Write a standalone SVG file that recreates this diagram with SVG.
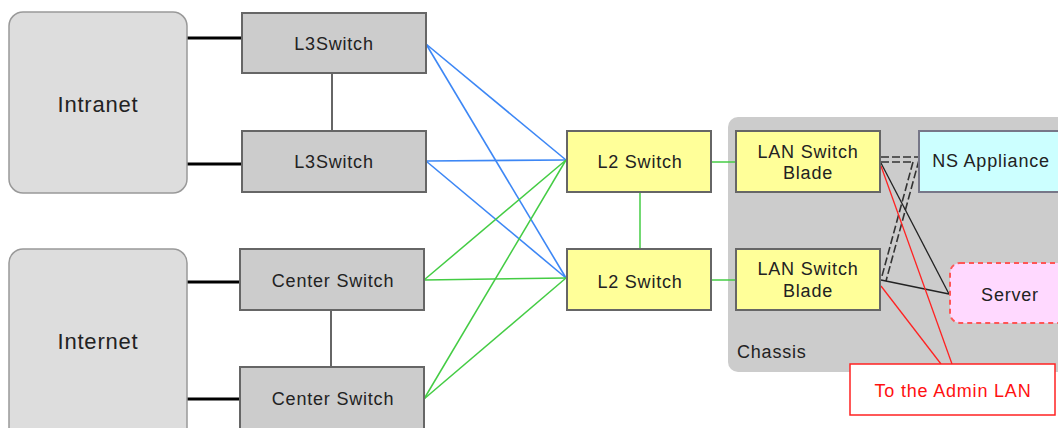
<svg xmlns="http://www.w3.org/2000/svg" width="1058" height="428" viewBox="0 0 1058 428">
<style>
text{font-family:"Liberation Sans",Arial,sans-serif;font-size:18px;fill:#222;letter-spacing:0.8px}
text.big{font-size:22px}
.cloud{fill:#dddddd;stroke:#999;stroke-width:1.5}
.sw{fill:#cccccc;stroke:#666;stroke-width:2}
.yl{fill:#ffff99;stroke:#666;stroke-width:2}
.blue{stroke:#3d87f5;stroke-width:1.6;fill:none}
.green{stroke:#44cc44;stroke-width:1.5;fill:none}
.blk{stroke:#000;stroke-width:3}
.gray{stroke:#666;stroke-width:2}
.thin{stroke:#222;stroke-width:1.3;fill:none}
.dash{stroke:#333;stroke-width:1.6;stroke-dasharray:8 3;fill:none}
.red{stroke:#ff2222;stroke-width:1.3;fill:none}
</style>
<rect width="1058" height="428" fill="#fff"/>
<g id="chassis">
<rect x="728" y="117" width="345" height="255" rx="10" fill="#cccccc"/>
<text x="737" y="358">Chassis</text>
</g>
<g id="connectors">
<line class="blk" x1="187" y1="38" x2="242" y2="38"/>
<line class="blk" x1="187" y1="164" x2="242" y2="164"/>
<line class="blk" x1="187" y1="282" x2="240" y2="282"/>
<line class="blk" x1="187" y1="399" x2="240" y2="399"/>
<line class="gray" x1="332" y1="73" x2="332" y2="130"/>
<line class="gray" x1="331" y1="310" x2="331" y2="367"/>
<line class="blue" x1="426" y1="44" x2="566" y2="160"/>
<line class="blue" x1="426" y1="44" x2="566" y2="278"/>
<line class="blue" x1="426" y1="161" x2="566" y2="160" stroke-width="2.5" stroke="#5a9af7"/>
<line class="blue" x1="426" y1="161" x2="566" y2="278"/>
<line class="green" x1="424" y1="280" x2="566" y2="160" stroke-width="2"/>
<line class="green" x1="424" y1="280" x2="566" y2="278" stroke-width="2.5" stroke="#8ee08e"/>
<line class="green" x1="424" y1="399" x2="566" y2="160"/>
<line class="green" x1="424" y1="399" x2="566" y2="278"/>
<line class="green" x1="640" y1="192" x2="640" y2="248"/>
<line class="green" x1="711" y1="162" x2="736" y2="162"/>
<line class="green" x1="711" y1="280" x2="736" y2="280"/>
<line class="dash" x1="881" y1="157" x2="919" y2="157"/>
<line class="dash" x1="881" y1="162" x2="913" y2="162"/>
<line class="dash" x1="913" y1="162" x2="882" y2="276"/>
<line class="dash" x1="919" y1="160" x2="886" y2="281"/>
<line class="thin" x1="881" y1="163" x2="949" y2="294"/>
<line class="thin" x1="881" y1="280" x2="949" y2="294"/>
<line class="red" x1="881" y1="166" x2="952" y2="364"/>
<line class="red" x1="881" y1="286" x2="941" y2="364"/>
</g>
<g id="intranet">
<rect class="cloud" x="9" y="12" width="178" height="181" rx="14"/>
<text class="big" x="98" y="112" text-anchor="middle">Intranet</text>
</g>
<g id="internet">
<rect class="cloud" x="9" y="249" width="178" height="200" rx="14"/>
<text class="big" x="98" y="349" text-anchor="middle">Internet</text>
</g>
<g id="l3switch1">
<rect class="sw" x="242" y="13" width="184" height="60"/>
<text x="334" y="50" text-anchor="middle">L3Switch</text>
</g>
<g id="l3switch2">
<rect class="sw" x="242" y="131" width="184" height="61"/>
<text x="334" y="168" text-anchor="middle">L3Switch</text>
</g>
<g id="centerswitch1">
<rect class="sw" x="240" y="249" width="184" height="61"/>
<text x="333" y="287" text-anchor="middle">Center Switch</text>
</g>
<g id="centerswitch2">
<rect class="sw" x="240" y="367" width="184" height="62"/>
<text x="333" y="405" text-anchor="middle">Center Switch</text>
</g>
<g id="l2switch1">
<rect class="yl" x="567" y="131" width="144" height="61"/>
<text x="640" y="168" text-anchor="middle">L2 Switch</text>
</g>
<g id="l2switch2">
<rect class="yl" x="567" y="249" width="144" height="61"/>
<text x="640" y="288" text-anchor="middle">L2 Switch</text>
</g>
<g id="blade1">
<rect class="yl" x="736" y="131" width="144" height="61"/>
<text x="808" y="158" text-anchor="middle">LAN Switch</text>
<text x="808" y="179" text-anchor="middle">Blade</text>
</g>
<g id="blade2">
<rect class="yl" x="736" y="249" width="144" height="61"/>
<text x="808" y="275" text-anchor="middle">LAN Switch</text>
<text x="808" y="297" text-anchor="middle">Blade</text>
</g>
<g id="nsappliance">
<rect x="919" y="131" width="150" height="61" fill="#ccffff" stroke="#778" stroke-width="2"/>
<text x="991" y="167" text-anchor="middle">NS Appliance</text>
</g>
<g id="server">
<rect x="950" y="263" width="130" height="60" rx="10" fill="#ffd9ff" stroke="#ff5555" stroke-width="2" stroke-dasharray="5 4"/>
<text x="1010" y="301" text-anchor="middle">Server</text>
</g>
<g id="adminlan">
<rect x="850" y="364" width="205" height="51" fill="#fff" stroke="#ff2222" stroke-width="1.5"/>
<text x="953" y="397" text-anchor="middle" style="fill:#ff1111">To the Admin LAN</text>
</g>
</svg>
